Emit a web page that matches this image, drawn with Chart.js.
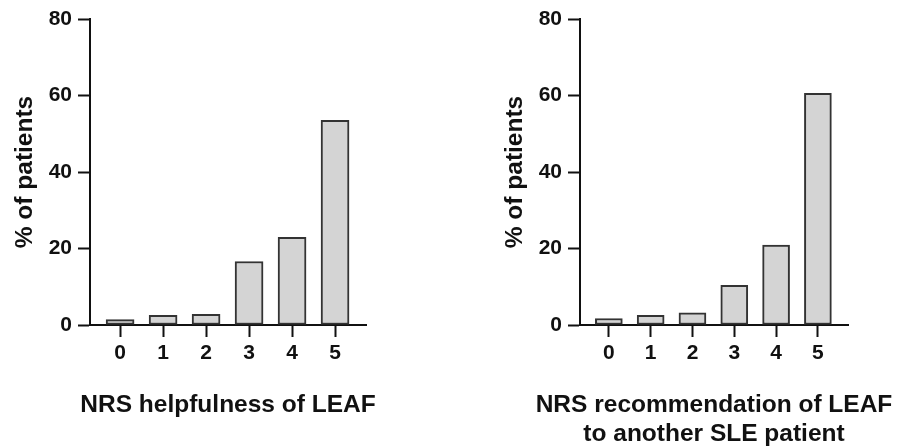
<!DOCTYPE html>
<html lang="en">

<head>
    <meta charset="UTF-8">
    <title>NRS LEAF</title>
    <script src="https://cdn.jsdelivr.net/npm/chart.js"></script>
    <style>
        body {
            margin: 0;
            background-color: #ffffff;
        }

        .panel {
            position: absolute;
            top: 0;
            height: 448px;
        }

        #leftPanel {
            left: 0;
            width: 450px;
        }

        #rightPanel {
            left: 450px;
            width: 449px;
        }
    </style>
</head>

<body>
    <div class="panel" id="leftPanel"><canvas id="helpChart"></canvas></div>
    <div class="panel" id="rightPanel"><canvas id="recChart"></canvas></div>

    <script>
        // NRS scores 0..5
        const scores = [0, 1, 2, 3, 4, 5];
        const yTicks = [0, 20, 40, 60, 80];

        // % of patients
        const helpfulness = [1.4, 2.5, 2.8, 16.6, 22.9, 53.5];
        const recommendation = [1.7, 2.5, 3.2, 10.4, 20.9, 60.6];

        const helpTitle = ['NRS helpfulness of LEAF'];
        const recTitle = ['NRS recommendation of LEAF', 'to another SLE patient'];
        const yTitle = '% of patients';

        const FONT = '"Liberation Sans", Arial, sans-serif';
        Chart.defaults.font.family = FONT;
        Chart.defaults.font.weight = 'bold';
        Chart.defaults.color = '#111111';

        // x axis title drawn by hand so long lines are not squeezed to the axis width
        const xTitlePlugin = {
            id: 'xTitle',
            afterDraw(chart, args, opts) {
                const { ctx, chartArea } = chart;
                const cx = (chartArea.left + chartArea.right) / 2;
                ctx.save();
                ctx.font = 'bold ' + opts.size + 'px ' + FONT;
                ctx.fillStyle = '#111111';
                ctx.textAlign = 'center';
                ctx.textBaseline = 'middle';
                opts.lines.forEach((line, i) => {
                    ctx.fillText(line, cx, opts.y + i * opts.lineHeight);
                });
                ctx.restore();
            }
        };

        function makeChart(id, values, xTitle, opts) {
            const ctx = document.getElementById(id).getContext('2d');
            return new Chart(ctx, {
                type: 'bar',
                data: {
                    datasets: [{
                        data: values.map((v, i) => ({ x: scores[i], y: v })),
                        backgroundColor: '#d4d4d4',
                        borderColor: '#333333',
                        borderWidth: 2,
                        borderSkipped: false,
                        barThickness: opts.barThickness
                    }]
                },
                plugins: [xTitlePlugin],
                options: {
                    responsive: true,
                    maintainAspectRatio: false,
                    animation: false,
                    layout: {
                        padding: { top: 19, left: opts.padLeft, right: opts.padRight, bottom: 0 }
                    },
                    plugins: {
                        legend: { display: false },
                        tooltip: { enabled: false },
                        xTitle: { lines: xTitle, size: 24.5, y: 405, lineHeight: 29 }
                    },
                    scales: {
                        x: {
                            type: 'linear',
                            offset: false,
                            min: opts.xMin,
                            max: opts.xMax,
                            afterBuildTicks: s => { s.ticks = scores.map(v => ({ value: v })); },
                            afterFit: s => { s.height = 123; },
                            border: { display: true, color: '#111111', width: 2 },
                            grid: {
                                display: true,
                                offset: false,
                                drawOnChartArea: false,
                                tickLength: 12,
                                tickWidth: 2,
                                tickColor: '#111111'
                            },
                            ticks: { font: { size: 21 }, padding: 4 }
                        },
                        y: {
                            min: 0,
                            max: 80,
                            afterBuildTicks: s => { s.ticks = yTicks.map(v => ({ value: v })); },
                            afterFit: s => { s.width = 90; },
                            border: { display: true, color: '#111111', width: 2 },
                            grid: {
                                display: true,
                                drawOnChartArea: false,
                                tickLength: 12,
                                tickWidth: 2,
                                tickColor: '#111111'
                            },
                            ticks: { font: { size: 21 }, padding: 6 },
                            title: {
                                display: true,
                                text: yTitle,
                                font: { size: 24.5 },
                                padding: { top: 11, bottom: 0 }
                            }
                        }
                    }
                }
            });
        }

        makeChart('helpChart', helpfulness, helpTitle, {
            padLeft: 0, padRight: 84, xMin: -0.7, xMax: 5.72, barThickness: 28
        });
        makeChart('recChart', recommendation, recTitle, {
            padLeft: 40, padRight: 51, xMin: -0.69, xMax: 5.72, barThickness: 27
        });
    </script>
</body>

</html>
